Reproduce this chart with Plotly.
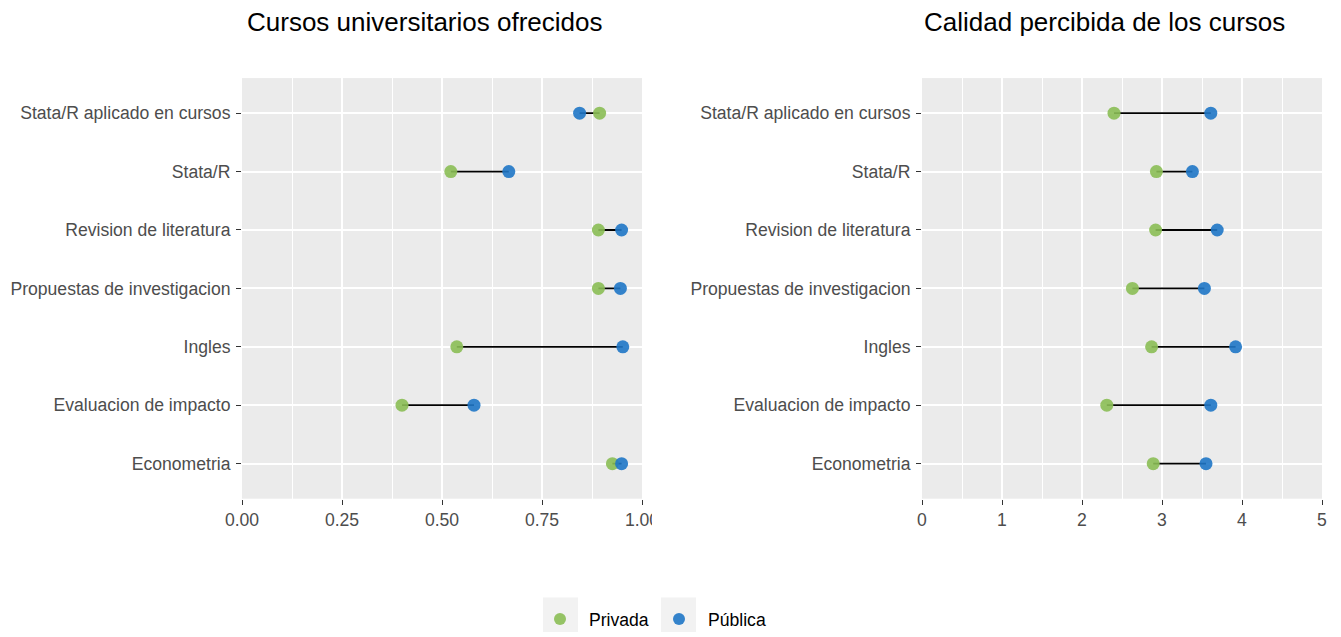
import plotly.graph_objects as go

categories = ["Stata/R aplicado en cursos", "Stata/R", "Revision de literatura",
              "Propuestas de investigacion", "Ingles", "Evaluacion de impacto", "Econometria"]
ofrecidos_privada = [0.894, 0.522, 0.891, 0.891, 0.537, 0.400, 0.926]
ofrecidos_publica = [0.844, 0.667, 0.949, 0.946, 0.952, 0.580, 0.949]
calidad_privada = [2.40, 2.93, 2.92, 2.63, 2.87, 2.31, 2.89]
calidad_publica = [3.61, 3.38, 3.69, 3.53, 3.92, 3.61, 3.55]
titles = ["Cursos universitarios ofrecidos", "Calidad percibida de los cursos"]
left_ticks = [0, 0.25, 0.5, 0.75, 1.0]
left_ticktext = ["0.00", "0.25", "0.50", "0.75", "1.00"]
right_ticks = [0, 1, 2, 3, 4, 5]

OFF = 8  # page body margin
W, H = 1341 - OFF, 637 - OFF
GREEN = "#8BBE55"
BLUE = "#1F77C6"
FONT = "Liberation Sans, Arial, sans-serif"

def px_x(p):
    return (p - OFF) / W

def px_y(p):
    return 1 - (p - OFF) / H

fig = go.Figure()

def add_panel(xa, ya, priv, pub, show_legend):
    lx, ly = [], []
    for c, a, b in zip(categories, priv, pub):
        lx += [a, b, None]
        ly += [c, c, None]
    fig.add_trace(go.Scatter(x=lx, y=ly, mode="lines", line=dict(color="black", width=1.8),
                             showlegend=False, hoverinfo="skip", xaxis=xa, yaxis=ya))
    fig.add_trace(go.Scatter(x=priv, y=categories, mode="markers", name="Privada",
                             marker=dict(color=GREEN, size=13, opacity=0.9),
                             showlegend=show_legend, legendgroup="p", xaxis=xa, yaxis=ya))
    fig.add_trace(go.Scatter(x=pub, y=categories, mode="markers", name="Pública",
                             marker=dict(color=BLUE, size=13, opacity=0.9),
                             showlegend=show_legend, legendgroup="u", xaxis=xa, yaxis=ya))

add_panel("x", "y", ofrecidos_privada, ofrecidos_publica, True)
add_panel("x2", "y2", calidad_privada, calidad_publica, False)

ydom = [px_y(505), px_y(79)]
axis_common = dict(showline=False, zeroline=False, ticks="outside", ticklen=5, tickwidth=1.1,
                   tickcolor="#333333", tickfont=dict(family=FONT, size=17.6, color="#4D4D4D"),
                   gridcolor="white", gridwidth=1.6, automargin=False, fixedrange=True)

fig.update_layout(
    width=W, height=H,
    margin=dict(l=0, r=0, t=0, b=0),
    paper_bgcolor="white", plot_bgcolor="#EBEBEB",
    font=dict(family=FONT),
    xaxis=dict(domain=[px_x(242), px_x(642)], range=[0, 1], tickvals=left_ticks,
               ticktext=left_ticktext, anchor="y",
               minor=dict(dtick=0.125, tick0=0.125, showgrid=True, gridcolor="white", gridwidth=0.8, ticks=""),
               **axis_common),
    yaxis=dict(domain=ydom, type="category", categoryorder="array", ticklabelstandoff=2,
               categoryarray=categories[::-1], range=[-0.6, 6.6], anchor="x", **axis_common),
    xaxis2=dict(domain=[px_x(922), px_x(1322)], range=[0, 5], tickvals=right_ticks, anchor="y2",
                minor=dict(dtick=1, tick0=0.5, showgrid=True, gridcolor="white", gridwidth=0.8, ticks=""),
                **axis_common),
    yaxis2=dict(domain=ydom, type="category", categoryorder="array", ticklabelstandoff=2,
                categoryarray=categories[::-1], range=[-0.6, 6.6], anchor="x2", **axis_common),
    legend=dict(orientation="h", x=px_x(531), xanchor="left", y=px_y(627), yanchor="middle",
                font=dict(family=FONT, size=17.6, color="black"), bgcolor="rgba(0,0,0,0)",
                itemsizing="constant", tracegroupgap=0, itemwidth=48, entrywidth=56),
    annotations=[
        dict(text=titles[0], x=px_x(245), y=px_y(22), xref="paper", yref="paper",
             xanchor="left", yanchor="middle", showarrow=False,
             font=dict(family=FONT, size=26, color="black")),
        dict(text=titles[1], x=px_x(922), y=px_y(22), xref="paper", yref="paper",
             xanchor="left", yanchor="middle", showarrow=False,
             font=dict(family=FONT, size=26, color="black")),
    ],
    shapes=[
        dict(type="rect", xref="paper", yref="paper", x0=px_x(652), x1=px_x(690),
             y0=px_y(535), y1=px_y(508), fillcolor="white", line=dict(width=0), layer="above"),
        dict(type="rect", xref="paper", yref="paper", x0=px_x(543), x1=px_x(578),
             y0=px_y(640), y1=px_y(605), fillcolor="#F2F2F2", line=dict(width=0), layer="above"),
        dict(type="rect", xref="paper", yref="paper", x0=px_x(661), x1=px_x(696),
             y0=px_y(640), y1=px_y(605), fillcolor="#F2F2F2", line=dict(width=0), layer="above"),
    ],
)

fig.write_html("out.html")
